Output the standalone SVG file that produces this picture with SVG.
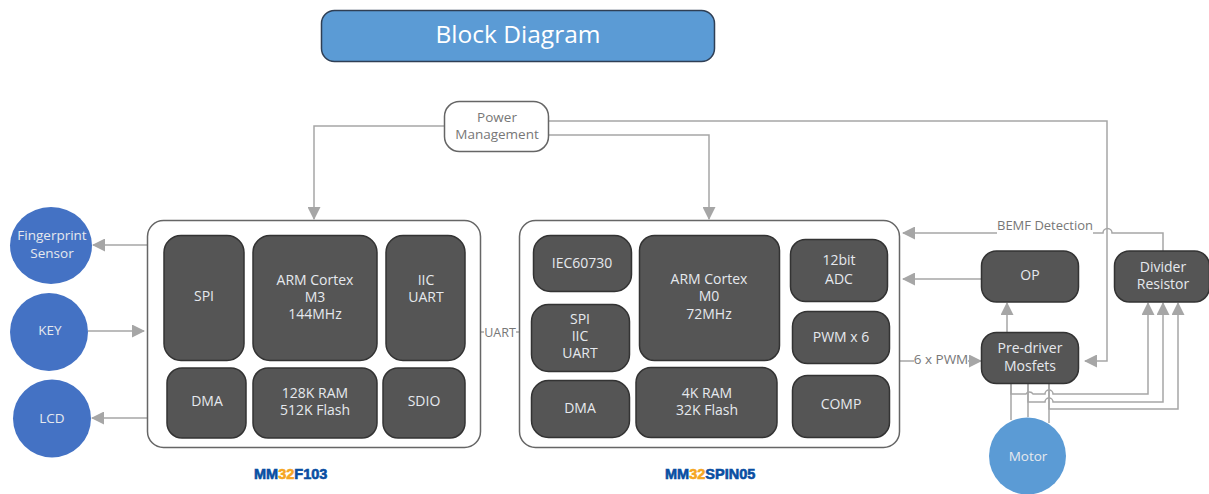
<svg xmlns="http://www.w3.org/2000/svg" width="1209" height="494" viewBox="0 0 1209 494">
<defs>
<marker id="ah" viewBox="0 0 13 13" refX="12" refY="6.500" markerWidth="13" markerHeight="13" markerUnits="userSpaceOnUse" orient="auto"><path d="M0 0L13 6.500L0 13Z" fill="#a6a6a6"/></marker>
</defs>
<style>
text{font-family:"Open Sans","Liberation Sans",sans-serif;text-anchor:middle}
.b rect{fill:#555;stroke:#333;stroke-width:1.5}
.b text{fill:#e6e9ee;font-size:14px}
.t{fill:#e6e9ee;font-size:13.5px}
.g{fill:#fff;stroke:#666;stroke-width:1.5}
.c{fill:none;stroke:#a6a6a6;stroke-width:1.5}
.l{fill:#777;font-size:13px}
.o{fill:#4472c4}
.logo{font-family:"Liberation Sans",sans-serif;font-size:14.500px;font-weight:bold;fill:#0a4ea2;stroke:#0a4ea2;stroke-width:.6;text-anchor:start}
</style>
<g id="title"><rect x="321.500" y="10.500" width="393" height="51" rx="13" fill="#5b9bd5" stroke="#2f3f55" stroke-width="1.5"/><text x="518" y="43" font-size="24.500" fill="#fff">Block Diagram</text></g>
<g id="connectors">
<path class="c" marker-end="url(#ah)" d="M445 126H314V219"/>
<path class="c" marker-end="url(#ah)" d="M549 135H709V219"/>
<path class="c" marker-end="url(#ah)" d="M549 121H1107V361H1085"/>
<path class="c" marker-end="url(#ah)" d="M147 245H93"/>
<path class="c" marker-end="url(#ah)" d="M88 331H144"/>
<path class="c" marker-end="url(#ah)" d="M147 418H92"/>
<path class="c" d="M481 332H484M516 332H519"/>
<path class="c" marker-end="url(#ah)" d="M900 361H914M968 361H981"/>
<path class="c" marker-end="url(#ah)" d="M1163 251V233H1112A4 4 0 0 0 1103 233H1093M997 233H903"/>
<path class="c" marker-end="url(#ah)" d="M981 279H903"/>
<path class="c" marker-end="url(#ah)" d="M1007 332V303"/>
<path class="c" marker-end="url(#ah)" d="M1011 384V394H1026A4 4 0 0 1 1033 394H1045A4 4 0 0 1 1053 394H1148V303"/>
<path class="c" marker-end="url(#ah)" d="M1028 384V402H1045A4 4 0 0 1 1053 402H1163V303"/>
<path class="c" marker-end="url(#ah)" d="M1049 384V409H1178V303"/>
<path class="c" d="M1011 384V420M1028 384V417M1049 384V423"/>
</g>
<g id="f103" class="b">
<rect x="147.500" y="220.500" width="333" height="227" rx="16" style="fill:#fff;stroke:#666"/>
<rect x="164" y="235.500" width="80" height="125" rx="17"/><text x="204" y="301">SPI</text>
<rect x="253" y="235.500" width="124" height="125" rx="17"/><text x="315" y="285">ARM Cortex</text><text x="315" y="302">M3</text><text x="315" y="319">144MHz</text>
<rect x="386" y="235.500" width="79" height="125" rx="17"/><text x="426" y="285">IIC</text><text x="426" y="302">UART</text>
<rect x="167" y="368" width="79" height="70" rx="15"/><text x="207" y="406">DMA</text>
<rect x="253" y="368" width="124" height="70" rx="15"/><text x="315" y="398">128K RAM</text><text x="315" y="415">512K Flash</text>
<rect x="383" y="368" width="82" height="70" rx="15"/><text x="424" y="406">SDIO</text>
</g>
<g id="spin05" class="b">
<rect x="519.500" y="220.500" width="380" height="227" rx="16" style="fill:#fff;stroke:#666"/>
<rect x="533.500" y="235.500" width="98" height="56" rx="17"/><text x="582" y="268">IEC60730</text>
<rect x="531.500" y="304.500" width="98" height="67" rx="17"/><text x="580" y="324">SPI</text><text x="580" y="341">IIC</text><text x="580" y="358">UART</text>
<rect x="531.500" y="380.500" width="98" height="57" rx="17"/><text x="580" y="413">DMA</text>
<rect x="639.500" y="235.500" width="140" height="125" rx="15"/><text x="709" y="284">ARM Cortex</text><text x="709" y="301">M0</text><text x="709" y="319">72MHz</text>
<rect x="636" y="367.500" width="141" height="70" rx="15"/><text x="707" y="398">4K RAM</text><text x="707" y="415">32K Flash</text>
<rect x="790.500" y="239.500" width="97" height="62" rx="15"/><text x="839" y="265">12bit</text><text x="839" y="284">ADC</text>
<rect x="792.500" y="311.500" width="97" height="52" rx="15"/><text x="841" y="342">PWM x 6</text>
<rect x="792.500" y="375.500" width="97" height="62" rx="15"/><text x="841" y="409">COMP</text>
</g>
<g id="power"><rect class="g" x="444.500" y="101.500" width="104" height="50" rx="15"/><text class="l" x="497" y="122" style="font-size:13.500px">Power</text><text class="l" x="497" y="139" style="font-size:13.500px">Management</text></g>
<g id="fingerprint"><ellipse class="o" cx="51" cy="245.500" rx="41" ry="38.500"/><text class="t" x="52" y="240">Fingerprint</text><text class="t" x="52" y="258">Sensor</text></g>
<g id="key"><circle class="o" cx="49" cy="332" r="39"/><text class="t" x="50" y="335">KEY</text></g>
<g id="lcd"><circle class="o" cx="52" cy="418.500" r="39"/><text class="t" x="52" y="423">LCD</text></g>
<g id="op" class="b"><rect x="981.500" y="251" width="97" height="51" rx="15"/><text x="1030" y="280">OP</text></g>
<g id="divider" class="b"><rect x="1114.500" y="251" width="95" height="51" rx="15"/><text x="1163" y="272">Divider</text><text x="1163" y="289">Resistor</text></g>
<g id="predriver" class="b"><rect x="981.500" y="332.500" width="97" height="51" rx="15"/><text x="1030" y="353">Pre-driver</text><text x="1030" y="371">Mosfets</text></g>
<g id="motor"><circle cx="1027.500" cy="456" r="38.500" fill="#5b9bd5"/><text class="t" x="1028" y="461">Motor</text></g>
<g id="labels">
<text class="l" x="500" y="337" style="font-size:12.500px">UART</text>
<text class="l" x="941" y="364" style="font-size:13.500px">6 x PWM</text>
<text class="l" x="1045" y="230">BEMF Detection</text>
<text class="logo" x="254" y="479">MM<tspan fill="#f5a623" stroke="#f5a623">32</tspan>F103</text>
<text class="logo" x="665" y="479">MM<tspan fill="#f5a623" stroke="#f5a623">32</tspan>SPIN05</text>
</g>
</svg>
